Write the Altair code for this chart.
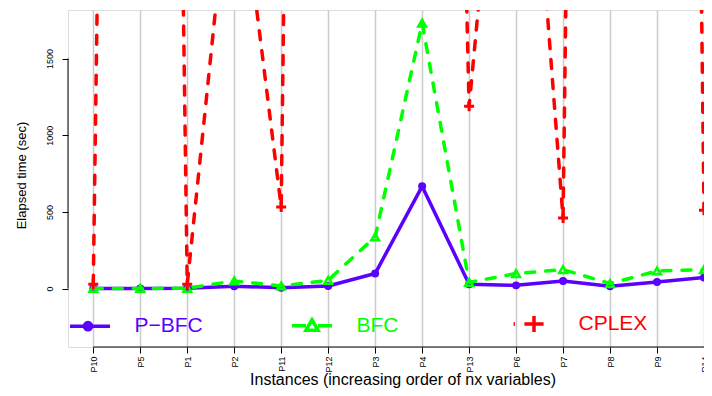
import altair as alt
import pandas as pd

instances = ["P10", "P5", "P1", "P2", "P11", "P12", "P3", "P4", "P13", "P6", "P7", "P8", "P9", "P14"]
pbfc = [1, 1, 2, 15, 6, 17, 98, 667, 28, 21, 50, 15, 43, 72]
bfc = [1, 1, 2, 50, 17, 54, 337, 1732, 41, 98, 124, 33, 115, 124]
cplex = [28, 22000, 28, 3000, 532, 25000, 20000, 14000, 1189, 4450, 460, 24000, 26000, 511]
y_ticks = [0, 500, 1000, 1500]
series = ["P\u2212BFC", "BFC", "CPLEX"]
colors = ["#5a00ff", "#00ff00", "#ff0000"]
y_domain = [-381, 1817]

W, H = 636, 337
FONT = "Liberation Sans"

rows = []
for name, vals in zip(series, [pbfc, bfc, cplex]):
    for inst, v in zip(instances, vals):
        rows.append({"inst": inst, "time": v, "series": name})
df = pd.DataFrame(rows)

xscale = alt.Scale(type="point", domain=instances, padding=0.269, align=1)
yscale = alt.Scale(domain=y_domain, nice=False, zero=False)

x_axis = alt.Axis(
    title="Instances (increasing order of nx variables)",
    labelAngle=270, labelAlign="right", labelBaseline="middle",
    labelFontSize=9, labelFont=FONT, labelColor="black", labelPadding=3,
    ticks=True, tickSize=6, tickColor="black", tickWidth=1,
    domain=False, grid=True, gridColor="#cccccc", gridWidth=1.5,
    titleFontSize=16, titleFont=FONT, titleFontWeight="normal", titleColor="black",
    titleX=334.5, titleY=37, titleAlign="center", titleBaseline="alphabetic",
)
y_axis = alt.Axis(
    title="Elapsed time (sec)", values=y_ticks, format="d",
    labelAngle=270, labelAlign="center", labelBaseline="bottom",
    labelFontSize=9, labelFont=FONT, labelColor="black", labelPadding=8,
    ticks=True, tickSize=6, tickColor="black", tickWidth=1,
    domain=False, grid=False,
    titleFontSize=13, titleFont=FONT, titleFontWeight="normal", titleColor="black",
    titleAngle=270, titleX=-42.3, titleY=165, titleAlign="center", titleBaseline="alphabetic",
)

x_enc = alt.X("inst:N", scale=xscale, axis=x_axis)
y_enc = alt.Y("time:Q", scale=yscale, axis=y_axis)

marker_shapes = ["circle", "triangle-up", "M-1,0H1M0,-1V1"]
marker_sizes = [30, 60, 100]
marker_widths = [2.5, 2.5, 3]
dashes = [None, [9, 11], [9, 11]]

layers = []
for name, col, shp, sz, sw, dash in zip(series, colors, marker_shapes, marker_sizes, marker_widths, dashes):
    base = alt.Chart(df).transform_filter(alt.datum.series == name)
    line_kw = dict(color=col, strokeWidth=3.5, clip=True, strokeCap="round", strokeJoin="round")
    if dash is not None:
        line_kw["strokeDash"] = dash
    layers.append(base.mark_line(**line_kw).encode(x=x_enc, y=y_enc))
    layers.append(
        base.mark_point(shape=shp, color=col, filled=False, size=sz, strokeWidth=sw, opacity=1, clip=True)
        .encode(x=x_enc, y=y_enc)
    )

legend_paths = [
    "M-1,0H1M0.08,0A0.18,0.18,0,1,1,-0.28,0A0.18,0.18,0,1,1,0.08,0",
    "M-1,0H-0.3M0.3,0H1M-0.3,0.22L0,-0.3L0.3,0.22Z",
    "M-1.02,0H-0.95M-0.48,0H0.48M0,-0.4V0.4",
]
label_expr = (
    "datum.label == 'BFC' ? '%s' : (datum.label == 'CPLEX' ? '%s' : '%s')"
    % (colors[1], colors[2], colors[0])
)


def make_legend():
    return alt.Legend(
        orient="none", legendX=0, legendY=292, direction="horizontal", title=None,
        symbolSize=1600, symbolStrokeWidth=3.5, symbolOpacity=1,
        labelFontSize=21, labelFont=FONT, labelOffset=22.5, columnPadding=80,
        gridAlign="all", padding=0, labelColor=alt.ExprRef(expr=label_expr),
    )


legend_layer = alt.Chart(df).mark_point(opacity=0, filled=False, clip=True).encode(
    x=x_enc, y=y_enc,
    color=alt.Color("series:N", scale=alt.Scale(domain=series, range=colors), legend=make_legend()),
    shape=alt.Shape("series:N", scale=alt.Scale(domain=series, range=legend_paths), legend=make_legend()),
)
layers.append(legend_layer)

one = pd.DataFrame({"k": [0]})
y_rule = alt.Chart(one).mark_rule(color="black", strokeWidth=1).encode(
    x=alt.value(0), y=alt.datum(y_ticks[0]), y2=alt.datum(y_ticks[-1])
)
x_rule = alt.Chart(one).mark_rule(color="black", strokeWidth=1).encode(
    x=alt.X(datum=instances[0], type="nominal", scale=xscale),
    x2=alt.X2(datum=instances[-1]),
    y=alt.value(H),
)
layers += [y_rule, x_rule]

chart = alt.layer(*layers).properties(
    width=W, height=H,
    autosize=alt.AutoSizeParams(type="none"),
    padding={"left": 60, "top": 2, "right": 0, "bottom": 41},
).configure_view(stroke=None).configure(background="white")

chart.save("out.html", embed_options={"renderer": "svg", "actions": False})
